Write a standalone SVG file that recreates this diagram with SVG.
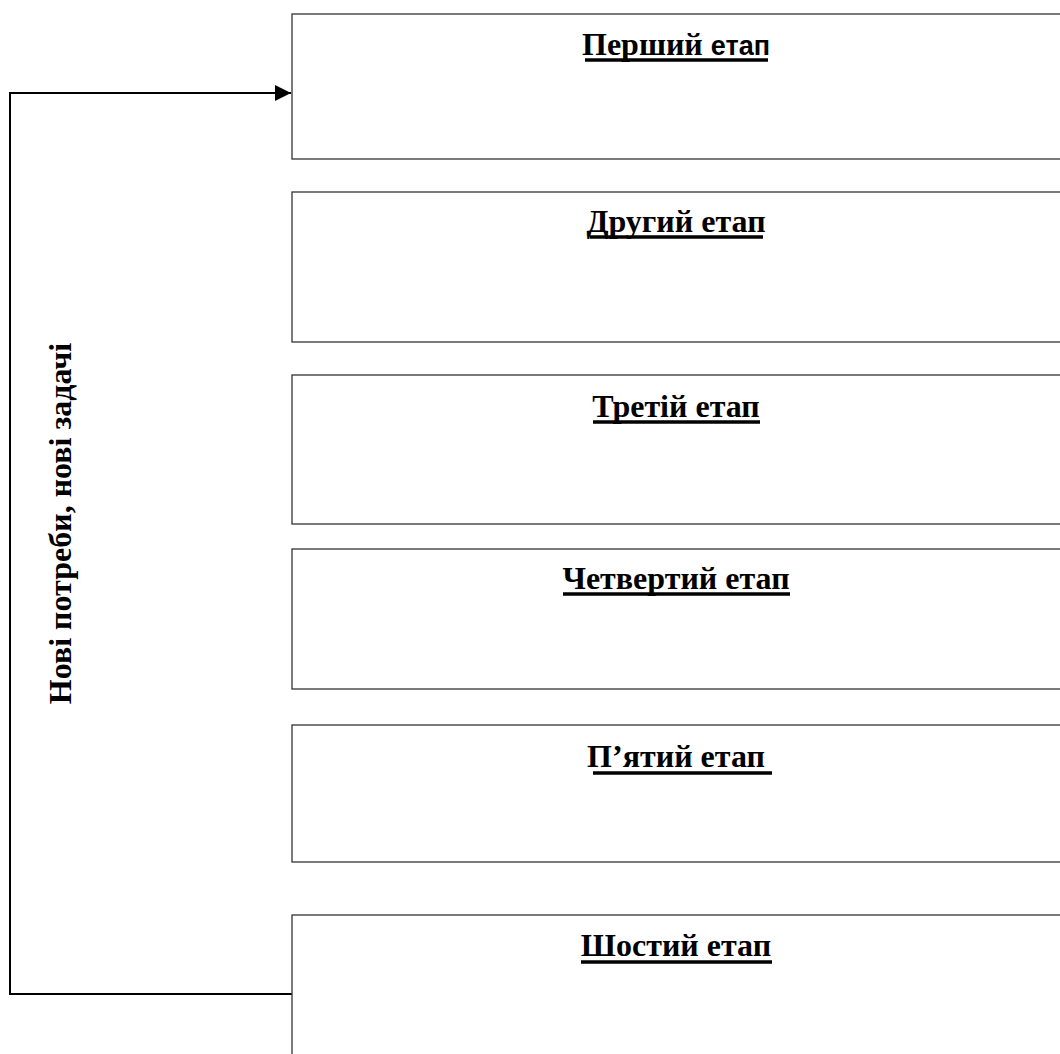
<svg xmlns="http://www.w3.org/2000/svg" width="1060" height="1054" viewBox="0 0 1060 1054">
<defs>
<style>
.box{fill:#fff;stroke:#333;stroke-width:1.3}
.lbl{font-family:"Liberation Serif","Times New Roman",serif;font-weight:bold;font-size:32px;fill:#000;text-anchor:middle}
.sans{font-family:"Liberation Sans",Arial,sans-serif;font-size:27px}
.ul{stroke:#000;stroke-width:3.5}
.conn{fill:none;stroke:#000;stroke-width:2}
</style>
<marker id="arr" viewBox="0 0 10 10" refX="10" refY="5" markerWidth="16" markerHeight="16" markerUnits="userSpaceOnUse" orient="auto">
<path d="M0,0 L10,5 L0,10 z" fill="#000"/>
</marker>
</defs>
<rect width="1060" height="1054" fill="#fff"/>
<g id="connectors">
<path class="conn" d="M292,994 H10 V93 H291" marker-end="url(#arr)"/>
</g>
<g id="loop-label">
<text class="lbl" transform="translate(71,523.5) rotate(-90)">Нові потреби, нові задачі</text>
</g>
<g id="stage1">
<rect class="box" x="292" y="14" width="780" height="145"/>
<text class="lbl" x="676" y="55">Перший <tspan class="sans">етап</tspan></text>
<line class="ul" x1="585" y1="60" x2="768" y2="60"/>
</g>
<g id="stage2">
<rect class="box" x="292" y="192" width="780" height="150"/>
<text class="lbl" x="676" y="232">Другий етап</text>
<line class="ul" x1="590" y1="237" x2="763" y2="237"/>
</g>
<g id="stage3">
<rect class="box" x="292" y="375" width="780" height="149"/>
<text class="lbl" x="676" y="417">Третій етап</text>
<line class="ul" x1="593" y1="422" x2="760" y2="422"/>
</g>
<g id="stage4">
<rect class="box" x="292" y="549" width="780" height="140"/>
<text class="lbl" x="676" y="589">Четвертий етап</text>
<line class="ul" x1="563" y1="594" x2="790" y2="594"/>
</g>
<g id="stage5">
<rect class="box" x="292" y="725" width="780" height="137"/>
<text class="lbl" x="676" y="767">П’ятий етап</text>
<line class="ul" x1="593" y1="773" x2="772" y2="773"/>
</g>
<g id="stage6">
<rect class="box" x="292" y="915" width="780" height="160"/>
<text class="lbl" x="676" y="956">Шостий етап</text>
<line class="ul" x1="581" y1="962" x2="772" y2="962"/>
</g>
</svg>
